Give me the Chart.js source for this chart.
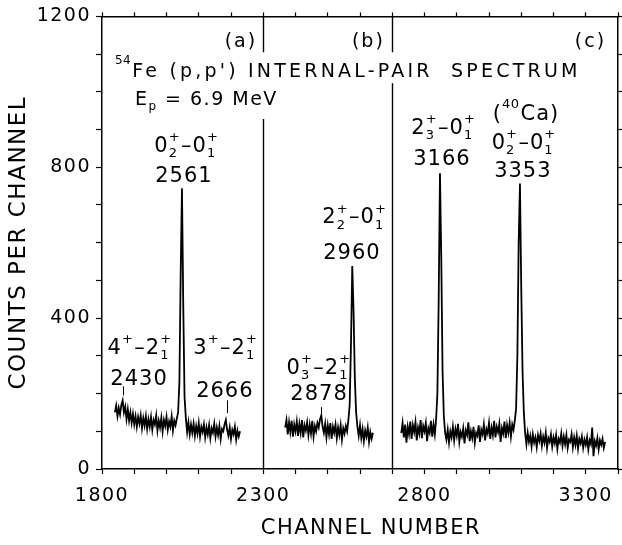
<!DOCTYPE html>
<html><head><meta charset="utf-8">
<script src="https://cdn.jsdelivr.net/npm/chart.js@4/dist/chart.umd.min.js"></script>
<style>html,body{margin:0;padding:0;background:#fff;}canvas{display:block;}</style>
</head><body>
<canvas id="c" width="622" height="545"></canvas>
<script>
// ---------- data ----------
const xTickLabels = [1800, 2300, 2800, 3300];
const yTickLabels = [0, 400, 800, 1200];
const panelStarts = [1840, 2368, 2728];   // first channel of each recorded trace
const channelStep = 4;
const countsA = [150,168,140,162,145,170,182,150,165,132,
 158,128,150,122,146,118,140,112,138,120,
 142,108,135,115,140,106,132,112,138,104,
 130,118,142,102,128,110,136,100,130,114,
 138,104,126,112,140,102,128,116,134,150,
 230,520,744,430,190,135,98,124,92,118,
 96,120,88,114,94,122,86,112,98,118,
 84,110,92,116,82,108,96,120,86,110,
 90,114,80,106,100,118,130,104,88,110,
 80,104,92,112,78,102,86,100];
const countsB = [110,130,92,124,98,128,86,118,100,126,
 88,120,96,130,84,116,102,124,90,118,
 94,128,86,114,100,122,110,132,142,112,
 96,120,84,116,92,122,80,112,96,118,
 82,110,90,116,78,108,94,114,100,130,
 170,330,538,420,240,150,112,88,116,82,
 106,74,102,86,110,72,98,80,96];
const countsC = [95,122,84,118,70,112,92,126,80,116,
 98,124,76,110,94,130,82,114,100,122,
 74,108,96,128,86,118,92,132,200,450,
 784,560,260,140,96,78,104,70,100,84,
 112,76,106,88,120,72,98,86,108,68,
 102,90,124,74,100,82,112,70,96,88,
 116,72,104,92,118,76,106,94,122,80,
 110,90,128,84,112,98,120,72,108,94,
 126,82,116,96,122,86,118,104,128,160,
 300,600,757,480,260,150,96,66,96,72,
 88,60,92,70,84,58,90,74,94,62,
 86,70,96,56,82,72,92,60,84,68,
 90,54,80,70,94,62,86,66,90,56,
 78,72,92,58,84,64,88,54,80,68,
 86,56,78,64,84,52,76,66,110,34,
 74,62,82,52,76,64,80,56,72];
const panelDividers = [2300, 2700];
const panelNames = ['(a)', '(b)', '(c)'];
const peakEnergies = ['2430', '2561', '2666', '2878', '2960', '3166', '3353'];
const peakTransitions = ['4[+|]–2[+|1]', '0[+|2]–0[+|1]', '3[+|]–2[+|1]', '0[+|3]–2[+|1]', '2[+|2]–0[+|1]', '2[+|3]–0[+|1]', '0[+|2]–0[+|1]'];
const titleText = '[54|]Fe (p,p\') INTERNAL-PAIR  SPECTRUM';
const beamText = 'E[|p] = 6.9 MeV';
const calciumText = '([40|]Ca)';
const xAxisTitle = 'CHANNEL NUMBER';
const yAxisTitle = 'COUNTS PER CHANNEL';

// ---------- layout (positions in data units, styles) ----------
const FONT = "'DejaVu Sans', sans-serif";
const INK = '#000';
const dividerGaps = [[1105, 928], [1105, 1023]];
const panelNamePos = [[2281, 1118], [2677, 1118], [3363, 1118]];
const transPos = [[1918, 306], [2063, 841], [2184, 306], [2473, 253], [2584, 651], [2860, 889], [3109, 849]];
const energyPos = [[1915, 222], [2054, 760], [2181, 190], [2473, 182], [2575, 556], [2854, 807], [3105, 775]];
const markerPos = [[1865, 195, 219], [2187, 148, 182], [2478, 148, 164]];
const xTitleCenter = 2634;   // channel under the centre of the x-axis title

function trace(counts, k) {
  return {
    data: counts.map((v, i) => ({x: panelStarts[k] + i * channelStep, y: v})),
    borderColor: INK, borderWidth: 1.8, pointRadius: 0, tension: 0, fill: false
  };
}

function parseRich(s) {
  const parts = []; const re = /\[([^|\]]*)\|([^\]]*)\]/g; let last = 0, m;
  while ((m = re.exec(s))) {
    if (m.index > last) parts.push({t: s.slice(last, m.index)});
    parts.push({sup: m[1], sub: m[2]});
    last = re.lastIndex;
  }
  if (last < s.length) parts.push({t: s.slice(last)});
  return parts;
}
function drawRich(ctx, str, px, py, o) {
  const fs = o.size, ss = Math.round(fs * 0.62), sp = o.spacing == null ? 1 : o.spacing;
  const big = fs + 'px ' + FONT, small = ss + 'px ' + FONT;
  const parts = parseRich(str);
  const widths = parts.map(p => {
    if (p.t !== undefined) { ctx.letterSpacing = sp + 'px'; ctx.font = big; return ctx.measureText(p.t).width; }
    ctx.letterSpacing = '0.5px'; ctx.font = small;
    return Math.max(ctx.measureText(p.sup).width, ctx.measureText(p.sub).width) + 1;
  });
  const total = widths.reduce((a, b) => a + b, 0);
  let cx = o.align === 'center' ? px - total / 2 : o.align === 'right' ? px - total : px;
  ctx.textAlign = 'left'; ctx.textBaseline = o.baseline || 'alphabetic'; ctx.fillStyle = INK;
  parts.forEach((p, i) => {
    if (p.t !== undefined) { ctx.letterSpacing = sp + 'px'; ctx.font = big; ctx.fillText(p.t, cx, py); }
    else {
      ctx.letterSpacing = '0.5px'; ctx.font = small;
      if (p.sup) ctx.fillText(p.sup, cx, py - fs * (o.raise || 0.5));
      if (p.sub) ctx.fillText(p.sub, cx, py + fs * 0.26);
    }
    cx += widths[i];
  });
}

const spacingPlugin = {
  id: 'spacing',
  beforeLayout(c) { c.ctx.letterSpacing = '1.5px'; },
  beforeDraw(c) { c.ctx.letterSpacing = '1.5px'; }
};

const annotations = {
  id: 'annotations',
  afterDatasetsDraw(chart) {
    const {ctx, scales: {x, y}} = chart;
    ctx.save();
    ctx.strokeStyle = INK;
    ctx.lineWidth = 1.4;
    panelDividers.forEach((d, i) => {
      const px = Math.round(x.getPixelForValue(d)) + 0.5;
      ctx.beginPath();
      ctx.moveTo(px, y.getPixelForValue(1200)); ctx.lineTo(px, y.getPixelForValue(dividerGaps[i][0]));
      ctx.moveTo(px, y.getPixelForValue(dividerGaps[i][1])); ctx.lineTo(px, y.getPixelForValue(0));
      ctx.stroke();
    });
    ctx.lineWidth = 1;
    markerPos.forEach(([c, a, b]) => {
      const px = Math.round(x.getPixelForValue(c)) + 0.5;
      ctx.beginPath(); ctx.moveTo(px, y.getPixelForValue(a)); ctx.lineTo(px, y.getPixelForValue(b)); ctx.stroke();
    });
    panelNames.forEach((t, i) => drawRich(ctx, t, x.getPixelForValue(panelNamePos[i][0]), y.getPixelForValue(panelNamePos[i][1]), {size: 19, spacing: 2, align: 'right'}));
    drawRich(ctx, titleText, x.getPixelForValue(1840), y.getPixelForValue(1039), {size: 19, spacing: 3.2, align: 'left', raise: 0.68});
    drawRich(ctx, beamText, x.getPixelForValue(1902), y.getPixelForValue(965), {size: 19, spacing: 1.5, align: 'left'});
    drawRich(ctx, calciumText, x.getPixelForValue(3115), y.getPixelForValue(926), {size: 21, spacing: 1, align: 'center', raise: 0.55});
    peakTransitions.forEach((t, i) => drawRich(ctx, t, x.getPixelForValue(transPos[i][0]), y.getPixelForValue(transPos[i][1]), {size: 21, spacing: 1, align: 'center'}));
    peakEnergies.forEach((t, i) => drawRich(ctx, t, x.getPixelForValue(energyPos[i][0]), y.getPixelForValue(energyPos[i][1]), {size: 21, spacing: 1, align: 'center'}));
    // x-axis title, centred under its channel position, in the bottom axis band
    const xs = chart.scales.x;
    drawRich(ctx, xAxisTitle, x.getPixelForValue(xTitleCenter), xs.bottom - 16, {size: 21, spacing: 1.5, align: 'center', baseline: 'middle'});
    ctx.restore();
  }
};

const tickGrid = len => ({drawOnChartArea: false, drawTicks: true, tickLength: len, color: INK, tickColor: INK, tickWidth: 1.2});
const frame = {display: true, color: INK, width: 1.5};

Chart.defaults.font.family = FONT;
Chart.defaults.color = INK;

new Chart(document.getElementById('c'), {
  type: 'line',
  data: {datasets: [trace(countsA, 0), trace(countsB, 1), trace(countsC, 2)]},
  options: {
    responsive: false, animation: false, devicePixelRatio: 1,
    layout: {padding: 0},
    plugins: {legend: {display: false}, tooltip: {enabled: false}},
    scales: {
      x: {
        type: 'linear', position: 'bottom', min: 1800, max: 3400,
        ticks: {stepSize: 100, autoSkip: false, maxRotation: 0, font: {size: 19, lineHeight: 1.9}, padding: 4, color: INK,
                callback: v => xTickLabels.includes(v) ? String(v) : ''},
        grid: tickGrid(5), border: frame,
        title: {display: false, text: xAxisTitle},
        afterFit: s => { s.height = 76; }
      },
      x2: {
        type: 'linear', position: 'top', min: 1800, max: 3400,
        ticks: {stepSize: 100, autoSkip: false, display: false},
        grid: tickGrid(4), border: frame,
        afterFit: s => { s.height = 14; }
      },
      y: {
        type: 'linear', position: 'left', min: 0, max: 1200,
        ticks: {stepSize: 100, autoSkip: false, font: {size: 19}, padding: 5, color: INK,
                callback: v => yTickLabels.includes(v) ? String(v) : ''},
        grid: tickGrid(6), border: frame,
        title: {display: true, text: yAxisTitle, font: {size: 23}, color: INK, padding: {top: 5, bottom: 0}},
        afterFit: s => { s.width = 102; }
      },
      y2: {
        type: 'linear', position: 'right', min: 0, max: 1200,
        ticks: {stepSize: 100, autoSkip: false, display: false},
        grid: tickGrid(4), border: frame,
        afterFit: s => { s.width = 4; }
      }
    }
  },
  plugins: [spacingPlugin, annotations]
});
</script>
</body></html>
